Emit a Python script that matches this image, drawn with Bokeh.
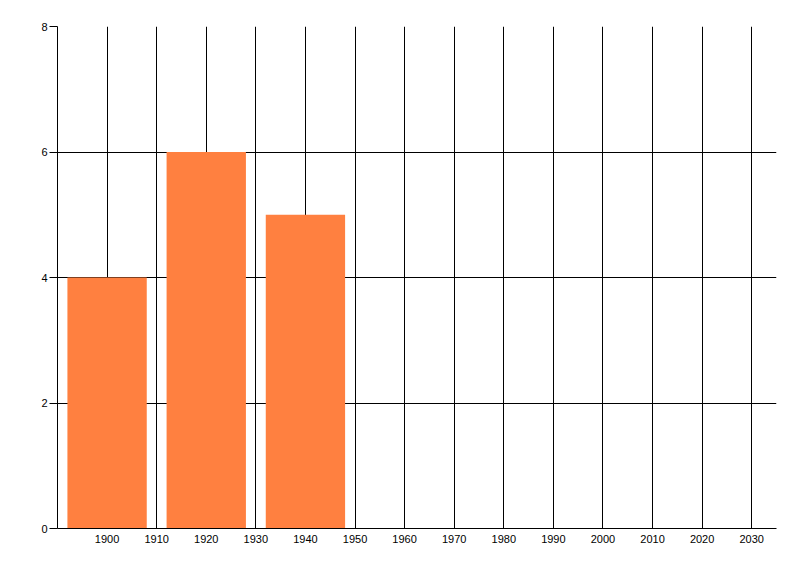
from bokeh.plotting import figure
from bokeh.models import Range1d, FixedTicker
from bokeh.embed import file_html
from bokeh.resources import INLINE

years = [1900, 1920, 1940]
values = [4, 6, 5]
x_ticks = [1900, 1910, 1920, 1930, 1940, 1950, 1960, 1970, 1980, 1990, 2000, 2010, 2020, 2030]
y_ticks = [0, 2, 4, 6, 8]

p = figure(width=792, height=568, output_backend="svg", toolbar_location=None,
           x_range=Range1d(1890, 2035), y_range=Range1d(0, 8),
           min_border_left=57, min_border_top=26, min_border_right=16, min_border_bottom=40)
p.outline_line_color = None
p.background_fill_color = "white"
p.border_fill_color = "white"

p.vbar(x=years, top=values, width=16, bottom=0, fill_color="#FF8040", line_color=None)

font = "Liberation Sans"
p.xaxis.ticker = FixedTicker(ticks=x_ticks)
p.yaxis.ticker = FixedTicker(ticks=y_ticks)
for ax in (p.xaxis, p.yaxis):
    ax.axis_line_color = "black"
    ax.axis_line_width = 1
    ax.major_tick_line_color = "black"
    ax.minor_tick_line_color = None
    ax.major_label_text_font = font
    ax.major_label_text_font_size = "11px"
    ax.major_label_text_color = "black"
    ax.major_tick_in = 0

p.xaxis.major_tick_out = 0
p.xaxis.major_label_standoff = 6
p.yaxis.major_tick_out = 8
p.yaxis.major_label_standoff = 2

p.xgrid.ticker = FixedTicker(ticks=x_ticks)
p.ygrid.ticker = FixedTicker(ticks=[2, 4, 6, 8])
for g in (p.xgrid, p.ygrid):
    g.grid_line_color = "black"
    g.grid_line_width = 1
    g.grid_line_alpha = 1.0

open("out.html", "w").write(file_html(p, INLINE))
